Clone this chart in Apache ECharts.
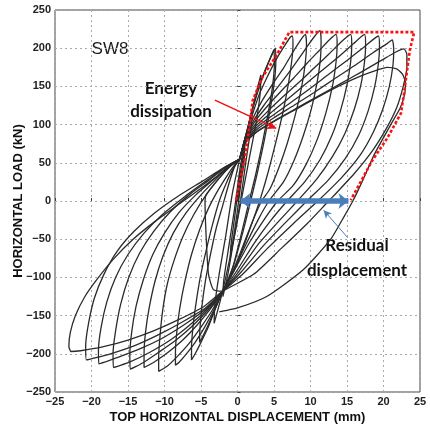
<!DOCTYPE html>
<html>
<head>
<meta charset="utf-8">
<script src="https://cdn.jsdelivr.net/npm/echarts@6/dist/echarts.min.js"></script>
<style>
html, body { margin: 0; padding: 0; background: #fff; }
#echart { width: 430px; height: 429px; }
</style>
</head>
<body>
<div id="echart"></div>
<script>
var dom = document.getElementById("echart")
var myChart = echarts.init(dom);

// displacement (mm), load (kN), cycle by cycle
let cycle1 = [[0,0],[0.5,38],[1.0,70],[0.9,52],[0.4,18],[0,-12],[-0.5,-45],[-1.0,-75],[-0.9,-58],[-0.4,-22],[0,8],[0.3,30]];
let cycle2 = [[0.3,30],[1.0,72],[1.6,102],[2.0,120],[1.9,100],[1.2,55],[0.4,0],[-0.5,-50],[-1.3,-95],[-2.0,-125],[-1.9,-105],[-1.2,-60],[-0.4,-10],[0.3,40]];
let cycle3 = [[0.3,40],[1.0,78],[1.8,112],[2.6,143],[3.2,165],[3.1,140],[2.5,100],[1.5,50],[0.5,0],[-0.5,-50],[-1.5,-95],[-2.4,-132],[-3.2,-160],[-3.1,-135],[-2.5,-95],[-1.6,-45],[-0.7,10],[0.3,55]];
let cycle4 = [[0.3,55],[1.2,88],[2.2,125],[3.2,155],[4.2,180],[5.0,198],[5.05,180],[4.8,150],[4.2,115],[3.4,75],[2.5,35],[1.6,0],[0.6,-40],[-0.6,-85],[-2.0,-118],[-3.3,-116],[-4.0,-94],[-4.45,0],[-4.3,8],[-2.5,30],[-0.8,47],[0.3,55]];
let cycle5 = [[0.3,55],[1.2,88],[2.2,125],[3.2,157],[4.3,183],[5.2,200],[5.25,182],[5.0,152],[4.4,116],[3.6,76],[2.7,36],[1.8,0],[0.7,-42],[-0.6,-86],[-2.0,-118],[-3.0,-140],[-4.0,-162],[-4.8,-178],[-5.2,-185],[-5.15,-168],[-4.9,-140],[-4.4,-105],[-3.7,-70],[-2.9,-35],[-2.0,-5],[-1.2,22],[-0.4,45],[0.3,55]];
let cycle6 = [[0.3,55],[1.1,85],[2.0,112],[3.0,140],[4.2,165],[5.4,187],[6.5,204],[7.2,214],[7.5,216],[7.6,205],[7.45,185],[7.0,155],[6.2,115],[5.2,75],[4.2,38],[3.2,5],[2.5,-15],[1.2,-50],[-0.3,-88],[-2.0,-118],[-3.0,-140],[-4.0,-165],[-5.0,-185],[-5.8,-200],[-6.3,-208],[-6.3,-192],[-6.1,-165],[-5.7,-135],[-5.1,-100],[-4.3,-65],[-3.4,-30],[-2.5,0],[-1.6,22],[-0.6,42],[0.3,55]];
let cycle7 = [[0.3,55],[1.1,84],[2.1,108],[3.3,130],[4.8,153],[6.3,174],[7.6,195],[8.6,210],[9.3,218],[9.45,205],[9.3,182],[8.8,150],[7.9,112],[6.8,75],[5.6,42],[4.4,15],[3.3,0],[2.0,-28],[0.5,-65],[-0.8,-95],[-2.0,-118],[-3.2,-142],[-4.5,-165],[-5.8,-185],[-7.0,-200],[-8.0,-211],[-8.5,-215],[-8.5,-198],[-8.3,-170],[-7.9,-140],[-7.2,-105],[-6.3,-70],[-5.2,-38],[-4.0,-10],[-2.8,12],[-1.5,32],[-0.5,46],[0.3,55]];
let cycle8 = [[0.3,55],[1.1,83],[2.2,105],[3.6,125],[5.2,145],[6.8,165],[8.3,185],[9.6,203],[10.6,216],[11.3,223],[11.45,210],[11.35,185],[10.9,155],[10.1,120],[9.0,85],[7.7,52],[6.3,25],[4.3,0],[2.8,-25],[1.0,-60],[-0.6,-92],[-2.0,-118],[-3.4,-142],[-5.0,-165],[-6.6,-186],[-8.2,-203],[-9.6,-216],[-10.8,-223],[-10.8,-205],[-10.6,-175],[-10.2,-140],[-9.6,-108],[-8.7,-78],[-7.5,-47],[-6.0,-18],[-4.3,8],[-2.5,30],[-1.0,46],[0.3,55]];
let cycle9 = [[0.3,55],[1.1,82],[2.3,103],[3.9,122],[5.8,142],[7.7,161],[9.5,180],[11.2,197],[12.6,211],[13.5,218],[13.65,205],[13.5,182],[13.0,150],[12.1,115],[10.9,80],[9.4,48],[7.6,20],[5.5,0],[3.6,-25],[1.6,-55],[-0.4,-90],[-2.0,-118],[-3.6,-140],[-5.5,-162],[-7.5,-182],[-9.5,-198],[-11.3,-210],[-12.8,-218],[-12.8,-200],[-12.6,-172],[-12.1,-140],[-11.3,-105],[-10.2,-72],[-8.8,-42],[-7.0,-15],[-5.0,8],[-3.0,28],[-1.2,45],[0.3,55]];
let cycle10 = [[0.3,55],[1.1,81],[2.4,100],[4.2,118],[6.3,137],[8.5,156],[10.6,175],[12.6,193],[14.3,209],[15.5,218],[15.65,204],[15.5,182],[15.0,152],[14.1,118],[12.9,85],[11.3,54],[9.2,25],[6.8,0],[4.6,-25],[2.3,-55],[0,-90],[-2.0,-118],[-3.8,-140],[-6.0,-162],[-8.4,-182],[-10.8,-198],[-13.0,-212],[-14.7,-220],[-14.75,-202],[-14.5,-172],[-13.9,-138],[-12.9,-103],[-11.6,-70],[-10.0,-42],[-8.0,-15],[-5.7,8],[-3.3,28],[-1.3,45],[0.3,55]];
let cycle11 = [[0.3,55],[1.1,80],[2.5,98],[4.5,115],[6.8,133],[9.2,152],[11.6,171],[13.9,189],[15.9,206],[17.4,218],[17.55,204],[17.4,182],[16.9,152],[16.0,120],[14.7,88],[13.0,58],[10.8,28],[8.2,0],[5.6,-27],[2.8,-57],[0.2,-92],[-2.0,-118],[-4.0,-140],[-6.5,-162],[-9.2,-182],[-12.0,-198],[-14.8,-211],[-17.0,-218],[-17.05,-200],[-16.7,-170],[-16.0,-135],[-14.9,-100],[-13.4,-68],[-11.5,-40],[-9.2,-14],[-6.5,9],[-3.8,28],[-1.5,45],[0.3,55]];
let cycle12 = [[0.3,55],[1.1,79],[2.6,96],[4.8,112],[7.3,129],[9.9,147],[12.5,166],[15.0,184],[17.4,202],[19.3,216],[19.45,202],[19.3,180],[18.8,150],[17.9,118],[16.6,86],[14.8,56],[12.4,27],[9.5,0],[6.6,-28],[3.4,-60],[0.5,-93],[-2.0,-118],[-4.2,-140],[-7.0,-160],[-10.0,-178],[-13.0,-192],[-16.2,-204],[-19.0,-213],[-19.05,-196],[-18.7,-166],[-17.9,-132],[-16.7,-100],[-15.0,-70],[-12.8,-42],[-10.2,-17],[-7.2,6],[-4.2,27],[-1.6,45],[0.3,55]];
let cycle13 = [[0.3,55],[1.1,78],[2.7,94],[5.0,109],[7.7,125],[10.5,142],[13.3,160],[16.0,177],[18.7,195],[20.5,206],[21.2,211],[21.4,198],[21.3,178],[20.8,150],[19.9,120],[18.6,90],[16.8,60],[14.2,30],[11.0,0],[7.6,-30],[4.0,-63],[0.8,-95],[-2.0,-118],[-4.4,-140],[-7.5,-158],[-10.8,-175],[-14.0,-189],[-17.4,-200],[-20.7,-208],[-20.8,-190],[-20.4,-160],[-19.6,-127],[-18.3,-96],[-16.5,-66],[-14.2,-40],[-11.4,-16],[-8.2,6],[-4.8,26],[-1.8,44],[0.3,55]];
let cycle14 = [[0.3,55],[1.1,77],[2.8,92],[5.2,106],[8.0,121],[11.0,137],[14.0,153],[17.0,169],[19.7,184],[21.7,195],[22.8,199],[23.2,192],[23.2,175],[22.7,150],[21.8,122],[20.4,95],[18.5,66],[16.0,36],[13.0,5],[12.2,-3],[9.5,-30],[6.0,-62],[2.2,-96],[-2.0,-118],[-4.6,-138],[-8.0,-155],[-11.5,-170],[-15.0,-182],[-18.5,-191],[-21.5,-196],[-22.8,-197],[-23.1,-190],[-22.9,-172],[-22.2,-150],[-20.9,-125],[-19.2,-102],[-17.0,-76],[-14.3,-50],[-11.2,-26],[-8.0,-4],[-4.8,18],[-2.0,38],[0.3,55]];
let cycle15 = [[0.3,55],[1.1,76],[2.6,90],[5.0,104],[8.0,120],[11.0,136],[14.0,151],[17.0,164],[19.0,171],[20.5,175],[21.8,173],[22.6,166],[23.0,155],[22.9,140],[22.3,122],[21.0,100],[18.8,62],[17.2,28],[15.8,0],[14.5,-22],[12.7,-51],[9.0,-90],[4.0,-125],[0,-140],[-2.5,-145]];

let cycles = [cycle1, cycle2, cycle3, cycle4, cycle5, cycle6, cycle7, cycle8, cycle9, cycle10, cycle11, cycle12, cycle13, cycle14, cycle15];

// red dotted envelope
let envelope = [[-0.2,1],[1.1,60],[1.6,95],[2.1,132],[3.4,162],[5.3,190],[7.1,221],[24.2,221],[23.6,197],[22.8,140],[22.4,115],[20.5,82],[18.4,52],[15.5,1]];

// annotation arrows (data coords)
let residualArrow = [[0.4, 0], [15.2, 0]];
let energyArrow = [[-3.1, 132], [5.3, 95]];
let residualPointer = [[15.1, -48], [11.8, -12]];

function minus(v) {
    return String(v).replace('-', '\u2212');
}

let series = cycles.map(function (c) {
    return {
        type: 'line',
        data: c,
        smooth: 0.2,
        symbol: 'none',
        silent: true,
        lineStyle: { color: '#2b2b2b', width: 1.3 },
        z: 2
    };
});

series.push({
    type: 'line',
    data: envelope,
    symbol: 'none',
    silent: true,
    lineStyle: { color: '#ff1010', width: 2.6, type: [3, 2] },
    z: 3
});

series.push({
    type: 'line',
    data: [],
    silent: true,
    z: 4,
    markLine: {
        silent: true,
        animation: false,
        label: { show: false },
        data: [
            [
                { coord: residualArrow[0], symbol: 'arrow', symbolSize: [12, 10], lineStyle: { color: '#4a7ebb', width: 5.5, type: 'solid' } },
                { coord: residualArrow[1], symbol: 'arrow', symbolSize: [12, 10] }
            ],
            [
                { coord: energyArrow[0], symbol: 'none', lineStyle: { color: '#ee1111', width: 1.5, type: 'solid' } },
                { coord: energyArrow[1], symbol: 'arrow', symbolSize: [7, 9] }
            ],
            [
                { coord: residualPointer[0], symbol: 'none', lineStyle: { color: '#4a7ebb', width: 1, type: 'solid' } },
                { coord: residualPointer[1], symbol: 'arrow', symbolSize: [6, 8] }
            ]
        ]
    }
});

var tickFont = { color: '#222', fontFamily: 'Liberation Sans', fontWeight: 'bold', fontSize: 11 };
var noteFont = { fill: '#111', fontFamily: 'Lato', fontWeight: 'bold', fontSize: 17, align: 'center', verticalAlign: 'middle' };

var option = {
    animation: false,
    grid: {
        left: 55,
        right: 10,
        top: 10,
        bottom: 37,
        containLabel: false,
        outerBoundsMode: 'none',
        show: true,
        borderColor: '#444',
        borderWidth: 1
    },
    xAxis: {
        type: 'value',
        min: -25,
        max: 25,
        interval: 5,
        name: 'TOP HORIZONTAL DISPLACEMENT (mm)',
        nameLocation: 'middle',
        nameGap: 19,
        nameMoveOverlap: false,
        nameTextStyle: { color: '#111', fontFamily: 'Liberation Sans', fontWeight: 'bold', fontSize: 13 },
        axisLine: { show: false },
        axisTick: { inside: true, length: 3, lineStyle: { color: '#444' } },
        axisLabel: Object.assign({ margin: 4, formatter: minus }, tickFont),
        splitLine: { show: true, lineStyle: { color: '#aaa', type: [2, 3], width: 1 } }
    },
    yAxis: {
        type: 'value',
        min: -250,
        max: 250,
        interval: 50,
        name: 'HORIZONTAL LOAD (kN)',
        nameLocation: 'middle',
        nameGap: 30,
        nameMoveOverlap: false,
        nameTextStyle: { color: '#111', fontFamily: 'Liberation Sans', fontWeight: 'bold', fontSize: 13 },
        axisLine: { show: false },
        axisTick: { inside: true, length: 3, lineStyle: { color: '#444' } },
        axisLabel: Object.assign({ margin: 4, formatter: minus }, tickFont),
        splitLine: { show: true, lineStyle: { color: '#aaa', type: [2, 3], width: 1 } }
    },
    graphic: [
        { type: 'text', x: 110, y: 49, silent: true, style: { text: 'SW8', fill: '#1a1a1a', fontFamily: 'Liberation Sans', fontSize: 17, align: 'center', verticalAlign: 'middle' } },
        { type: 'text', x: 171, y: 89, silent: true, style: Object.assign({ text: 'Energy' }, noteFont) },
        { type: 'text', x: 171, y: 112, silent: true, style: Object.assign({ text: 'dissipation' }, noteFont) },
        { type: 'text', x: 357, y: 246, silent: true, style: Object.assign({ text: 'Residual' }, noteFont) },
        { type: 'text', x: 357, y: 271, silent: true, style: Object.assign({ text: 'displacement' }, noteFont) }
    ],
    series: series
};

if (option && typeof option === 'object') {
    myChart.setOption(option);
}

window.addEventListener('resize', function () {
    myChart.resize();
});
</script>
</body>
</html>
